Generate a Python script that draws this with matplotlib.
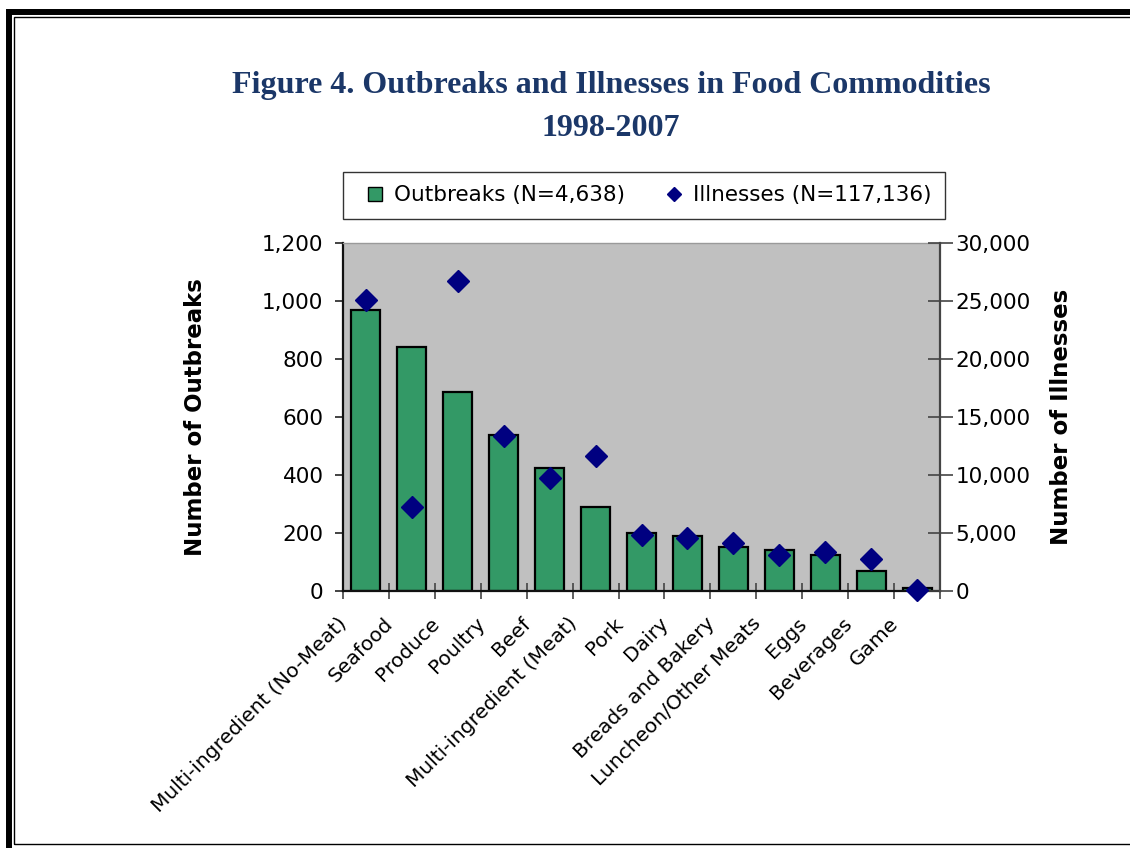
import matplotlib
matplotlib.use("Agg")
import matplotlib.pyplot as plt
from matplotlib.lines import Line2D
from matplotlib.patches import Rectangle
from matplotlib.ticker import FuncFormatter, FixedLocator
import matplotlib.transforms as mtransforms

# ---- data -------------------------------------------------------------
categories = [
    "Multi-ingredient (No-Meat)", "Seafood", "Produce", "Poultry", "Beef",
    "Multi-ingredient (Meat)", "Pork", "Dairy", "Breads and Bakery",
    "Luncheon/Other Meats", "Eggs", "Beverages", "Game",
]
outbreaks = [970, 840, 685, 537, 424, 288, 200, 188, 153, 140, 123, 70, 10]
illnesses = [25100, 7200, 26700, 13400, 9700, 11650, 4850, 4550, 4100,
             3100, 3350, 2800, 110]

outbreak_ticks = [0, 200, 400, 600, 800, 1000, 1200]
illness_ticks = [0, 5000, 10000, 15000, 20000, 25000, 30000]

title_text = "Figure 4. Outbreaks and Illnesses in Food Commodities\n1998-2007"
legend_labels = ["Outbreaks (N=4,638)", "Illnesses (N=117,136)"]

# ---- styling ----------------------------------------------------------
W, H = 1130, 848
DPI = 100
BAR_GREEN = "#339966"
NAVY = "#000080"
PLOT_GRAY = "#C0C0C0"
TITLE_BLUE = "#1B3768"
TICK_FS = 15.5

plt.rcParams["font.family"] = ["DejaVu Sans"]

fig = plt.figure(figsize=(W / DPI, H / DPI), dpi=DPI)


def fx(px):
    return px / W


def fy(py):
    return 1 - py / H


# double page frame (thick outer band, thin inner rule)
fig.patches.append(Rectangle((fx(9), fy(848 + 40)), fx(1200), fy(12) - fy(848 + 40),
                             transform=fig.transFigure, fill=False,
                             edgecolor="black", linewidth=4.3, zorder=0))
fig.patches.append(Rectangle((fx(13.5), fy(843.5)), fx(1200), fy(17) - fy(843.5),
                             transform=fig.transFigure, fill=False,
                             edgecolor="black", linewidth=1.0, zorder=0))

# ---- axes -------------------------------------------------------------
ax = fig.add_axes([fx(343), fy(591), fx(940) - fx(343), fy(243) - fy(591)])
ax.set_facecolor(PLOT_GRAY)
x = list(range(len(categories)))

ax.bar(x, outbreaks, width=0.63, color=BAR_GREEN, edgecolor="black",
       linewidth=1.6, zorder=2)
ax.set_xlim(-0.5, len(categories) - 0.5)
ax.set_ylim(0, 1200)
ax.yaxis.set_major_locator(FixedLocator(outbreak_ticks))
ax.yaxis.set_major_formatter(FuncFormatter(lambda v, p: f"{v:,.0f}"))
ax.tick_params(axis="y", direction="out", length=6, width=1.2,
               labelsize=TICK_FS, pad=8, color="#222222")

ax.set_xticks(x)
ax.set_xticklabels(categories, rotation=45, ha="right", fontsize=14.5)
ax.set_xticks([i + 0.5 for i in range(-1, len(categories))], minor=True)
ax.tick_params(axis="x", which="major", length=0, pad=16.5)
ax.tick_params(axis="x", which="minor", direction="inout", length=11,
               width=1.2, color="#444444")
shift = mtransforms.ScaledTranslation(-15 / DPI, 0, fig.dpi_scale_trans)
for lbl in ax.get_xticklabels():
    lbl.set_transform(lbl.get_transform() + shift)

for side in ("left", "bottom"):
    ax.spines[side].set_linewidth(1.6)
    ax.spines[side].set_color("#111111")
ax.spines["top"].set_color("#9a9a9a")
ax.spines["top"].set_linewidth(1.0)
ax.spines["right"].set_visible(False)

ax.set_ylabel("Number of Outbreaks", fontsize=16.5, fontweight="bold",
              labelpad=40)

ax2 = ax.twinx()
ax2.plot(x, illnesses, linestyle="none", marker="D", markersize=10.8,
         color=NAVY, markeredgecolor=NAVY, clip_on=False, zorder=5)
ax2.set_ylim(0, 30000)
ax2.yaxis.set_major_locator(FixedLocator(illness_ticks))
ax2.yaxis.set_major_formatter(FuncFormatter(lambda v, p: f"{v:,.0f}"))
ax2.tick_params(axis="y", direction="inout", length=18, width=1.2,
                labelsize=TICK_FS, pad=2, color="#444444")
ax2.spines["right"].set_linewidth(1.6)
ax2.spines["right"].set_color("#444444")
for side in ("left", "top", "bottom"):
    ax2.spines[side].set_visible(False)
ax2.set_ylabel("Number of Illnesses", fontsize=16.5, fontweight="bold",
               labelpad=14)

# ---- title ------------------------------------------------------------
fig.text(fx(611), fy(107), title_text, ha="center", va="center",
         family=["Liberation Serif"], fontweight="bold", fontsize=23,
         color=TITLE_BLUE, linespacing=1.6)

# ---- legend -----------------------------------------------------------
handles = [
    Line2D([], [], linestyle="none", marker="s", markersize=10,
           markerfacecolor=BAR_GREEN, markeredgecolor="black",
           markeredgewidth=1.0),
    Line2D([], [], linestyle="none", marker="D", markersize=7.5,
           markerfacecolor=NAVY, markeredgecolor=NAVY),
]
leg = fig.legend(handles, legend_labels, loc="upper left",
                 bbox_to_anchor=(fx(343), fy(172)), ncol=2,
                 fontsize=TICK_FS, frameon=True, fancybox=False,
                 borderpad=0.62, handlelength=1.7, handletextpad=0.05,
                 columnspacing=1.42, borderaxespad=0)
leg.get_frame().set_edgecolor("black")
leg.get_frame().set_linewidth(1.0)

fig.savefig("out.png", dpi=DPI)
